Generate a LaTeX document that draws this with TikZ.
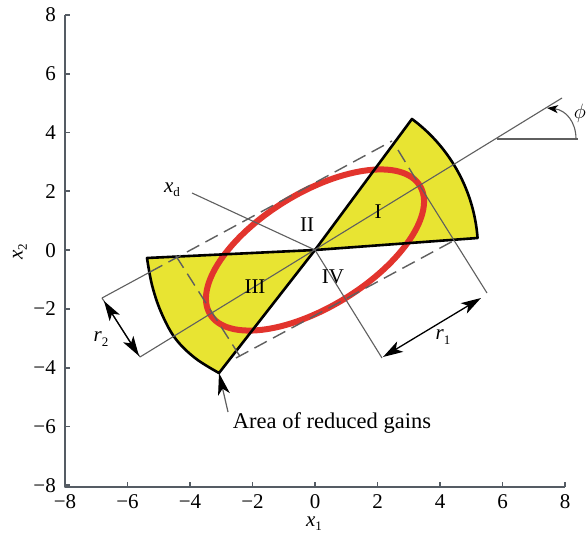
\documentclass[tikz,border=0pt]{standalone}
\usepackage{fontspec}
\setmainfont{Liberation Serif}
\usetikzlibrary{arrows.meta}
\definecolor{axiscol}{RGB}{85,92,100}
\definecolor{thincol}{RGB}{95,95,95}
\definecolor{secfill}{RGB}{232,228,50}
\definecolor{ellred}{RGB}{226,52,45}
\newcommand\mysub[1]{\raisebox{-0.45ex}{\fontsize{13}{13}\selectfont #1}}
\begin{document}
\begin{tikzpicture}[x=1pt,y=-1pt,line join=round,
  axisline/.style={axiscol,line width=1.8pt},
  thinline/.style={thincol,line width=1.1pt},
  dashline/.style={thincol,line width=1.4pt,dash pattern=on 14pt off 7pt},
  dimarrow/.style={black,line width=1.3pt,{Stealth[length=20pt,width=12pt,inset=5pt]}-{Stealth[length=20pt,width=12pt,inset=5pt]}},
  ptrarrow/.style={thincol,line width=1.2pt,-{Stealth[length=22pt,width=12pt,inset=6pt,black]}},
  lbl/.style={font=\fontsize{21}{25}\selectfont,inner sep=0pt},
  ticklbl/.style={font=\fontsize{21}{25}\selectfont,inner sep=0pt}]
\fill[white] (0,0) rectangle (587,538);
\useasboundingbox (0,0) rectangle (587,538);

% axes
\draw[axisline] (65,15) -- (65,487) -- (565,487);
\foreach \v/\t in {8/8,6/6,4/4,2/2,0/0,-2/−2,-4/−4,-6/−6,-8/−8}{
  \draw[axisline] (65,{250-29.4*\v}) -- ++(5,0);
  \node[ticklbl,anchor=base east] at (56,{257-29.4*\v}) {\t};
  \draw[axisline] ({315+31.25*\v},487) -- ++(0,-5);
  \node[ticklbl,anchor=base] at ({315+31.25*\v},508) {\t};
}
\node[lbl] (xone) at (314,524) {\textit{x}\mysub{1}};
\node[lbl,rotate=90] (xtwo) at (20,252) {\textit{x}\mysub{2}};

% coordinates
\coordinate (O) at (315,250);
\coordinate (IL) at (147,258);
\coordinate (IIItip) at (219,373);
\coordinate (IR) at (477.6,238);

% sectors (fill)
\fill[secfill] (O) -- (IL) -- plot[smooth,tension=0.6] coordinates {(147,258) (152,285) (161,312) (175,338) (195,358) (219,373)} -- cycle;
\fill[secfill] (O) -- (IR) -- plot[domain=4.2:53.5,samples=40] ({315+163*cos(\x)},{250-163*sin(\x)}) -- cycle;

% ellipse
\draw[ellred,line width=6pt,shift={(315,250)},rotate=31.5] (0,0) ellipse [x radius=123pt,y radius=57pt];

% sector outlines
\draw[black,line width=2.6pt] (O) -- (IL) -- plot[smooth,tension=0.6] coordinates {(147,258) (152,285) (161,312) (175,338) (195,358) (219,373)} -- cycle;
\draw[black,line width=2.6pt] (O) -- (IR) -- plot[domain=4.2:53.5,samples=40] ({315+163*cos(\x)},{250-163*sin(\x)}) -- cycle;

% main axis and phi reference
\coordinate (axL) at (140,357);
\coordinate (axR) at (562,98);
\draw[thinline] (axL) -- (axR);
\coordinate (phiO) at (497,139);
\coordinate (phiE) at (578,139);
\draw[thinline] (phiO) -- (phiE);
\coordinate (phiS) at (576,139);
\coordinate (phiT) at (547,108);
\draw[thinline,-{Stealth[length=11pt,width=8pt,inset=3pt,black]}] (phiS) .. controls (576,122) and (566,110) .. (phiT);
\node[lbl] (phi) at (580,113) {$\phi$};

% x_d line
\coordinate (xdA) at (192,193);
\coordinate (xdB) at (382,358);
\draw[thinline] (xdA) -- (O) -- (xdB);
\node[lbl] (xd) at (172,190) {\textit{x}\mysub{d}};

% dashed bounding lines
\coordinate (r2A) at (102,298);
\coordinate (upS) at (150,272);
\coordinate (upE) at (392,141);
\draw[thinline] (r2A) -- (upS);
\draw[dashline] (upS) -- (upE);
\coordinate (rpA) at (398,150);
\coordinate (rpM) at (420,186);
\coordinate (r1B) at (487,293);
\draw[dashline] (rpA) -- (rpM);
\draw[thinline] (rpM) -- (r1B);
\coordinate (lpA) at (176,256);
\coordinate (lpB) at (241,358);
\draw[dashline] (lpA) -- (lpB);
\coordinate (loA) at (236,358);
\coordinate (loB) at (455,240);
\draw[dashline] (loA) -- (loB);

% dimensions
\draw[thinline] (r2A) -- (axL);
\coordinate (r2s) at (104,301);
\coordinate (r2e) at (139,356);
\draw[dimarrow] (r2s) -- (r2e);
\node[lbl] (r2) at (101,339) {\textit{r}\mysub{2}};
\coordinate (r1s) at (383,357);
\coordinate (r1e) at (481,298);
\draw[dimarrow] (r1s) -- (r1e);
\node[lbl] (r1) at (443,337) {\textit{r}\mysub{1}};

% region labels
\node[lbl] (rI) at (378,212) {I};
\node[lbl] (rII) at (307,225) {II};
\node[lbl] (rIII) at (255,287) {III};
\node[lbl] (rIV) at (333,277) {IV};

% area label
\node[font=\fontsize{22.5}{26}\selectfont,inner sep=0pt] (area) at (332,423) {Area of reduced gains};
\coordinate (areaS) at (228,412);
\draw[ptrarrow] (areaS) -- (IIItip);
\end{tikzpicture}
\end{document}
